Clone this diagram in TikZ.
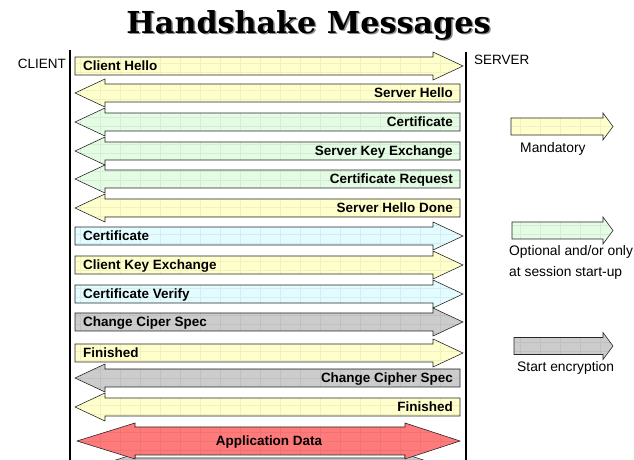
\documentclass[tikz,border=0pt]{standalone}
\usepackage{fontspec}
\setmainfont{Liberation Sans}
\newfontfamily\titlefont{DejaVu Serif}
\usetikzlibrary{calc}
\definecolor{mandcolor}{HTML}{FFFFCC}
\definecolor{optcolor}{HTML}{E3FCE3}
\definecolor{certcolor}{HTML}{E3FCFF}
\definecolor{enccolor}{HTML}{CCCCCC}
\definecolor{datacolor}{HTML}{FF7A7A}

\begin{document}
\begin{tikzpicture}[x=0.03cm,y=-0.03cm,
    msgbox/.style={draw=black!85,line width=0.5pt,fill=#1,
      path picture={\draw[#1!94!black,line width=0.2pt,xstep=0.6cm,ystep=0.27cm]
        (path picture bounding box.south west) grid (path picture bounding box.north east);}},
    msgtext/.style={inner sep=0pt,font=\fontsize{11.5}{13}\selectfont\bfseries},
    sidetext/.style={inner sep=0pt,font=\fontsize{11.5}{13}\selectfont},
    keytext/.style={inner sep=0pt,font=\fontsize{11.8}{18}\selectfont,align=left}]
\useasboundingbox (0,0) rectangle (634,460);

%% title
\node[inner sep=0pt,anchor=base,text=black!45,font=\titlefont\fontsize{25.8}{27}\selectfont\bfseries]
  at (310,35) {Handshake Messages};
\node[inner sep=0pt,anchor=base,font=\titlefont\fontsize{25.8}{27}\selectfont\bfseries]
  (title) at (308.5,33.5) {Handshake Messages};

%% client and server
\coordinate (clienttop) at (70,50);
\coordinate (clientbot) at (70,460);
\coordinate (servertop) at (466,52);
\coordinate (serverbot) at (466,460);
\draw[line width=2.2pt] (clienttop) -- (clientbot);
\draw[line width=1.4pt] (servertop) -- (serverbot);
\node[sidetext,anchor=base east] (client) at (66,69) {CLIENT};
\node[sidetext,anchor=base west] (server) at (474,65) {SERVER};

%% client -> server
\foreach \y/\fc/\txt/\nm in {66/mandcolor/Client Hello/chello,
    236/certcolor/Certificate/ccert, 265/mandcolor/Client Key Exchange/ckex,
    294/certcolor/Certificate Verify/cverify, 322/enccolor/Change Ciper Spec/cccs,
    353/mandcolor/Finished/cfin}
{
  \draw[msgbox=\fc] (75,\y-9) -- (433,\y-9) -- (433,\y-14) -- (463,\y)
    -- (433,\y+14) -- (433,\y+9) -- (75,\y+9) -- cycle;
  \node[msgtext,anchor=base west] (\nm) at (83,\y+5) {\txt};
}

%% server -> client
\foreach \y/\fc/\txt/\nm in {93/mandcolor/Server Hello/shello,
    122/optcolor/Certificate/scert, 151/optcolor/Server Key Exchange/skex,
    179/optcolor/Certificate Request/sreq, 208/mandcolor/Server Hello Done/sdone,
    378/enccolor/Change Cipher Spec/sccs, 407/mandcolor/Finished/sfin}
{
  \draw[msgbox=\fc] (460,\y-9) -- (105,\y-9) -- (105,\y-14) -- (75,\y)
    -- (105,\y+14) -- (105,\y+9) -- (460,\y+9) -- cycle;
  \node[msgtext,anchor=base east] (\nm) at (453,\y+5) {\txt};
}

%% application data
\begin{scope}
\clip (0,0) rectangle (634,460);
\draw[msgbox=enccolor] (77,472) -- (135,454) -- (135,458) -- (405,458) -- (405,454)
  -- (460,472) -- (405,490) -- (135,490) -- cycle;
\draw[msgbox=datacolor]
  (77,441) -- (135,423) -- (135,427) -- (405,427) -- (405,423) -- (460,441)
  -- (405,459) -- (405,455) -- (135,455) -- (135,459) -- cycle;
\end{scope}
\node[msgtext,anchor=base] (appdata) at (269,446) {Application Data};

%% legend
\foreach \y/\x/\fc/\nm in {126.5/511/mandcolor/keymand, 230.5/512/optcolor/keyopt,
    346/514/enccolor/keyenc}
{
  \draw[msgbox=\fc] (\x,\y-8.5) -- (603,\y-8.5) -- (603,\y-13.5) -- (613,\y)
    -- (603,\y+13.5) -- (603,\y+8.5) -- (\x,\y+8.5) -- cycle;
  \coordinate (\nm) at (\x,\y);
}
\node[keytext,anchor=base west] (mandatory) at (520,152.5) {Mandatory};
\node[keytext,anchor=base west] (optional) at (509,276.5) {Optional and/or only\\at session start-up};
\node[keytext,anchor=base west] (startenc) at (517,371.5) {Start encryption};
\end{tikzpicture}
\end{document}
